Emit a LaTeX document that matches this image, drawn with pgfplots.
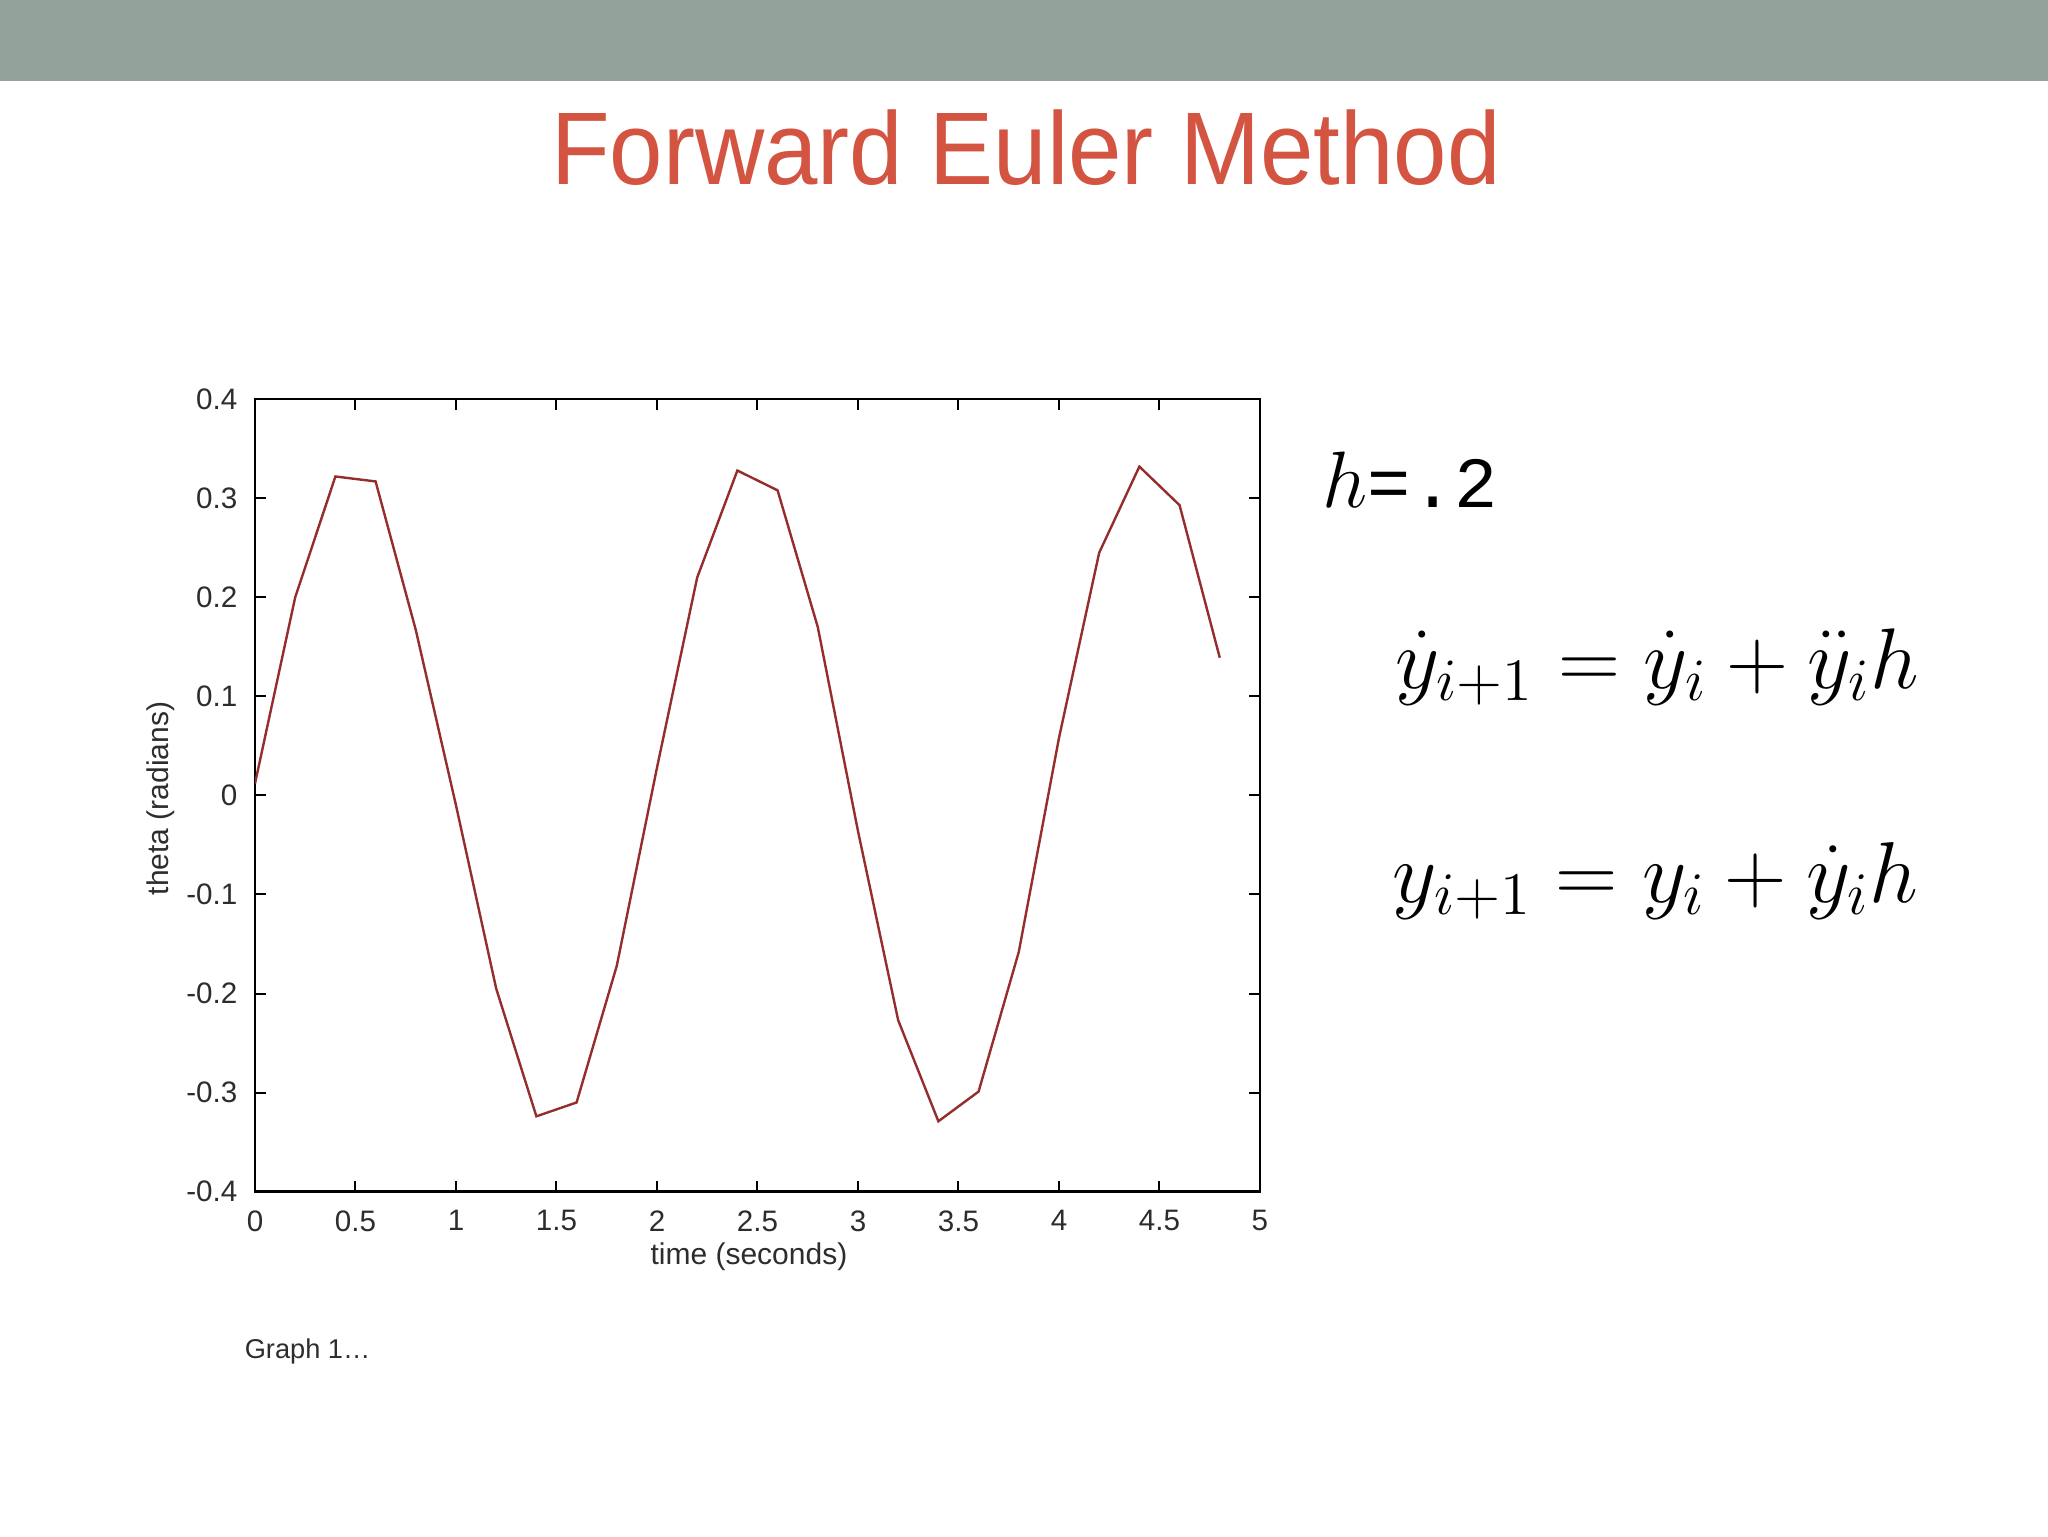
\RequirePackage{fix-cm}
\documentclass[border=0pt]{standalone}
\usepackage{fontspec}
\setmainfont{Liberation Sans}
\newfontfamily\titlefont[FakeStretch=0.93]{Liberation Sans}
\newfontfamily\monofont{Liberation Mono}
\usepackage{pgfplots}
\pgfplotsset{compat=1.18}
\definecolor{banner}{RGB}{147,162,154}
\definecolor{titlered}{RGB}{211,84,64}
\definecolor{curve}{RGB}{150,45,45}
\definecolor{ticktext}{RGB}{45,45,45}
\begin{document}
\begin{tikzpicture}
\path[use as bounding box, fill=white] (0,0) rectangle (512pt,384pt);
\fill[banner] (0,363.75pt) rectangle (512pt,384pt);
\node[anchor=base, text=titlered, inner sep=0] at (256.5pt,337.75pt)
  {\titlefont\fontsize{25.8}{30}\selectfont Forward Euler Method};
\begin{axis}[
  at={(63.75pt,86.1pt)}, anchor=south west,
  scale only axis, width=251.25pt, height=198.1pt,
  xmin=0, xmax=5, ymin=-0.4, ymax=0.4,
  xtick={0,0.5,1,1.5,2,2.5,3,3.5,4,4.5,5},
  xticklabels={0,0.5,1,1.5,2,2.5,3,3.5,4,4.5,5},
  ytick={-0.4,-0.3,-0.2,-0.1,0,0.1,0.2,0.3,0.4},
  yticklabels={-0.4,-0.3,-0.2,-0.1,0,0.1,0.2,0.3,0.4},
  tick align=inside, major tick length=2.7pt,
  tick style={black, line width=0.5pt},
  axis line style={line width=0.6pt},
  ticklabel style={font=\fontsize{7.4}{8}\selectfont, text=ticktext},
  xticklabel style={yshift=-1.2pt},
  yticklabel style={xshift=-0.9pt},
  xlabel={time (seconds)}, ylabel={theta (radians)},
  label style={font=\fontsize{7.5}{9}\selectfont, text=ticktext},
  xlabel style={at={(axis description cs:0.4915,-0.0824)}, anchor=center},
  ylabel style={at={(axis description cs:-0.094,0.496)}, anchor=center},
]
\addplot[curve, line width=0.6pt, mark=none] coordinates {
 (0,0.012) (0.2,0.200) (0.4,0.322) (0.6,0.317) (0.8,0.167)
 (1.0,-0.010) (1.2,-0.195) (1.4,-0.324) (1.6,-0.310) (1.8,-0.172)
 (2.0,0.028) (2.2,0.220) (2.4,0.328) (2.6,0.308) (2.8,0.170)
 (3.0,-0.036) (3.2,-0.227) (3.4,-0.329) (3.6,-0.299) (3.8,-0.158)
 (4.0,0.058) (4.2,0.245) (4.4,0.332) (4.6,0.293) (4.8,0.139)
};
\end{axis}
\node[anchor=base west, inner sep=0, text=ticktext] at (61pt,44.5pt)
  {\fontsize{6.8}{8}\selectfont Graph 1\ldots};
\node[anchor=base west, inner sep=0] at (330.5pt,257.25pt)
  {\fontsize{20}{24}\selectfont $h$\monofont\fontsize{18}{22}\selectfont =.2};
\node[anchor=base west, inner sep=0] at (348.75pt,212pt)
  {\fontsize{21.5}{25}\selectfont $\dot{y}_{i+1} = \dot{y}_i + \ddot{y}_i h$};
\node[anchor=base west, inner sep=0] at (348pt,158.5pt)
  {\fontsize{21.6}{25}\selectfont $y_{i+1} = y_i + \dot{y}_i h$};
\end{tikzpicture}
\end{document}
